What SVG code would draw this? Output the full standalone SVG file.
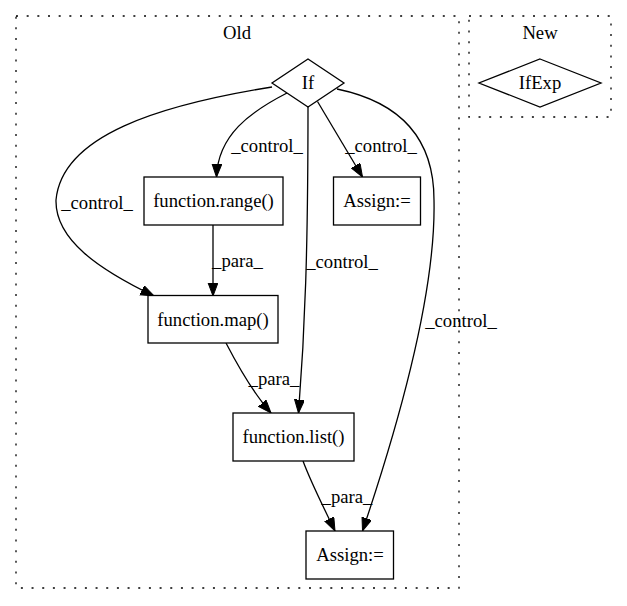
<svg xmlns="http://www.w3.org/2000/svg" width="627" height="606" viewBox="0 0 627 606">
<defs>
<style>
text{font-family:"Liberation Serif","Times New Roman",serif;font-size:18.67px;fill:#000;text-anchor:middle}
.cl{fill:none;stroke:#000;stroke-width:1.3;stroke-dasharray:2,8.67}
.nd{fill:#fff;stroke:#000;stroke-width:1.3}
.ed{fill:none;stroke:#000;stroke-width:1.3}
</style>
<marker id="ah" markerUnits="userSpaceOnUse" markerWidth="16" markerHeight="12" refX="13.3" refY="5" orient="auto">
<path d="M0,0 L13.3,5 L0,10 Z" fill="#000" stroke="#000" stroke-width="1"/>
</marker>
</defs>
<rect width="627" height="606" fill="#fff"/>
<g id="cluster_old">
<rect class="cl" x="16" y="16" width="443" height="572"/>
<text x="237" y="39">Old</text>
</g>
<g id="cluster_new">
<rect class="cl" x="469" y="16" width="142" height="101"/>
<text x="540" y="39">New</text>
</g>
<g id="edges">
<path class="ed" marker-end="url(#ah)" d="M287,93 C250,112 218,135 216.5,177"/>
<path class="ed" marker-end="url(#ah)" d="M317.5,101.5 L362.5,177"/>
<path class="ed" marker-end="url(#ah)" d="M272,87 C160,105 62,135 56,200 C55,240 100,270 154,296"/>
<path class="ed" marker-end="url(#ah)" d="M213,225 L213,296"/>
<path class="ed" marker-end="url(#ah)" d="M308,107 C308,250 305,330 298.5,413"/>
<path class="ed" marker-end="url(#ah)" d="M337,89 C390,100 434,130 434,200 C436,290 400,420 362.5,531"/>
<path class="ed" marker-end="url(#ah)" d="M226,343 C240,370 255,395 271,413"/>
<path class="ed" marker-end="url(#ah)" d="M303,461 C312,485 325,510 335,531"/>
<text x="267" y="152">_control_</text>
<text x="381" y="152">_control_</text>
<text x="97" y="209">_control_</text>
<text x="237.5" y="267">_para_</text>
<text x="342" y="268">_control_</text>
<text x="461" y="327">_control_</text>
<text x="274" y="385">_para_</text>
<text x="347" y="503">_para_</text>
</g>
<g id="node_if">
<polygon class="nd" points="308,59 344,83 308,107 272,83"/>
<text x="308" y="89">If</text>
</g>
<g id="node_ifexp">
<polygon class="nd" points="540,59 601,83 540,107 479,83"/>
<text x="540" y="89">IfExp</text>
</g>
<g id="node_range">
<rect class="nd" x="144" y="177" width="139" height="48"/>
<text x="213.5" y="207">function.range()</text>
</g>
<g id="node_assign1">
<rect class="nd" x="333.5" y="177" width="87" height="48"/>
<text x="377" y="207">Assign:=</text>
</g>
<g id="node_map">
<rect class="nd" x="148" y="295.5" width="130" height="47.5"/>
<text x="213" y="326">function.map()</text>
</g>
<g id="node_list">
<rect class="nd" x="233" y="413" width="121" height="48"/>
<text x="293.5" y="443">function.list()</text>
</g>
<g id="node_assign2">
<rect class="nd" x="306" y="531" width="87.5" height="48"/>
<text x="350" y="561">Assign:=</text>
</g>
</svg>
